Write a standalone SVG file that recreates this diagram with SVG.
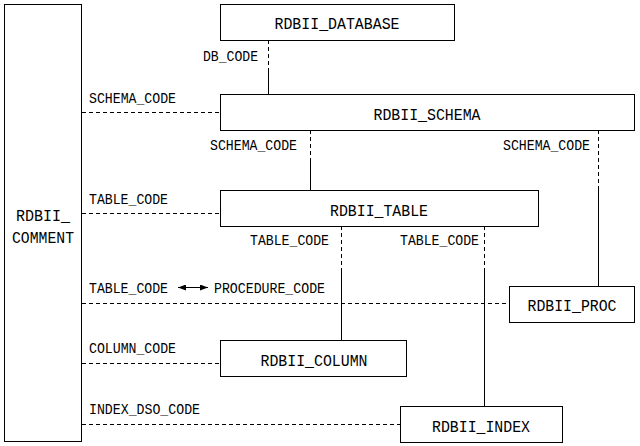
<svg xmlns="http://www.w3.org/2000/svg" width="640" height="446" viewBox="0 0 640 446">
<style>
.box{fill:#fff;stroke:#000;stroke-width:1}
.t{font-family:"Liberation Mono","DejaVu Sans Mono",monospace;font-size:16px;fill:#000}
.l{font-family:"Liberation Mono","DejaVu Sans Mono",monospace;font-size:14px;fill:#000}
.d{stroke:#000;stroke-width:1;stroke-dasharray:4 3;fill:none}
.s{stroke:#000;stroke-width:1;fill:none}
</style>
<defs>
<marker id="ah" viewBox="0 0 8 6" refX="8" refY="3" markerWidth="8" markerHeight="6" orient="auto-start-reverse" markerUnits="userSpaceOnUse">
<path d="M0,0 L8,3 L0,6 Z" fill="#000"/>
</marker>
</defs>
<rect width="640" height="446" fill="#fff"/>
<g id="connectors">
<line class="d" x1="268.5" y1="40" x2="268.5" y2="68"/>
<line class="s" x1="268.5" y1="68" x2="268.5" y2="94"/>
<line class="d" x1="82" y1="112.5" x2="220" y2="112.5"/>
<line class="d" x1="310.5" y1="130" x2="310.5" y2="160"/>
<line class="s" x1="310.5" y1="160" x2="310.5" y2="190"/>
<line class="d" x1="598.5" y1="130" x2="598.5" y2="190"/>
<line class="s" x1="598.5" y1="190" x2="598.5" y2="286"/>
<line class="d" x1="82" y1="213.5" x2="220" y2="213.5"/>
<line class="d" x1="341.5" y1="226" x2="341.5" y2="268"/>
<line class="s" x1="341.5" y1="268" x2="341.5" y2="340"/>
<line class="d" x1="484.5" y1="226" x2="484.5" y2="268"/>
<line class="s" x1="484.5" y1="268" x2="484.5" y2="406"/>
<line class="d" x1="82" y1="303.5" x2="509" y2="303.5"/>
<line class="d" x1="82" y1="363.5" x2="220" y2="363.5"/>
<line class="d" x1="82" y1="424.5" x2="400" y2="424.5"/>
<line class="s" x1="178" y1="287.5" x2="208" y2="287.5" marker-start="url(#ah)" marker-end="url(#ah)"/>
<text class="l" x="203" y="61" textLength="55" lengthAdjust="spacingAndGlyphs">DB_CODE</text>
<text class="l" x="89" y="103" textLength="87" lengthAdjust="spacingAndGlyphs">SCHEMA_CODE</text>
<text class="l" x="210" y="150" textLength="87" lengthAdjust="spacingAndGlyphs">SCHEMA_CODE</text>
<text class="l" x="503" y="150" textLength="87" lengthAdjust="spacingAndGlyphs">SCHEMA_CODE</text>
<text class="l" x="89" y="204" textLength="79" lengthAdjust="spacingAndGlyphs">TABLE_CODE</text>
<text class="l" x="250" y="245" textLength="79" lengthAdjust="spacingAndGlyphs">TABLE_CODE</text>
<text class="l" x="400" y="245" textLength="79" lengthAdjust="spacingAndGlyphs">TABLE_CODE</text>
<text class="l" x="89" y="293" textLength="79" lengthAdjust="spacingAndGlyphs">TABLE_CODE</text>
<text class="l" x="214" y="293" textLength="111" lengthAdjust="spacingAndGlyphs">PROCEDURE_CODE</text>
<text class="l" x="89" y="353" textLength="87" lengthAdjust="spacingAndGlyphs">COLUMN_CODE</text>
<text class="l" x="89" y="414" textLength="111" lengthAdjust="spacingAndGlyphs">INDEX_DSO_CODE</text>
</g>
<g id="comment">
<rect class="box" x="4.5" y="4.5" width="77" height="437"/>
<text class="t" x="43" y="221" text-anchor="middle" textLength="54" lengthAdjust="spacingAndGlyphs">RDBII_</text>
<text class="t" x="43" y="243" text-anchor="middle" textLength="62" lengthAdjust="spacingAndGlyphs">COMMENT</text>
</g>
<g id="database">
<rect class="box" x="220.5" y="4.5" width="234" height="36"/>
<text class="t" x="337" y="29" text-anchor="middle" textLength="125" lengthAdjust="spacingAndGlyphs">RDBII_DATABASE</text>
</g>
<g id="schema">
<rect class="box" x="220.5" y="94.5" width="414" height="36"/>
<text class="t" x="427" y="120" text-anchor="middle" textLength="107" lengthAdjust="spacingAndGlyphs">RDBII_SCHEMA</text>
</g>
<g id="table">
<rect class="box" x="220.5" y="190.5" width="318" height="36"/>
<text class="t" x="379" y="216" text-anchor="middle" textLength="98" lengthAdjust="spacingAndGlyphs">RDBII_TABLE</text>
</g>
<g id="proc">
<rect class="box" x="509.5" y="286.5" width="125" height="36"/>
<text class="t" x="572" y="311" text-anchor="middle" textLength="89" lengthAdjust="spacingAndGlyphs">RDBII_PROC</text>
</g>
<g id="column">
<rect class="box" x="220.5" y="340.5" width="186" height="36"/>
<text class="t" x="314" y="366" text-anchor="middle" textLength="107" lengthAdjust="spacingAndGlyphs">RDBII_COLUMN</text>
</g>
<g id="index">
<rect class="box" x="400.5" y="406.5" width="162" height="36"/>
<text class="t" x="481" y="432" text-anchor="middle" textLength="98" lengthAdjust="spacingAndGlyphs">RDBII_INDEX</text>
</g>
</svg>
